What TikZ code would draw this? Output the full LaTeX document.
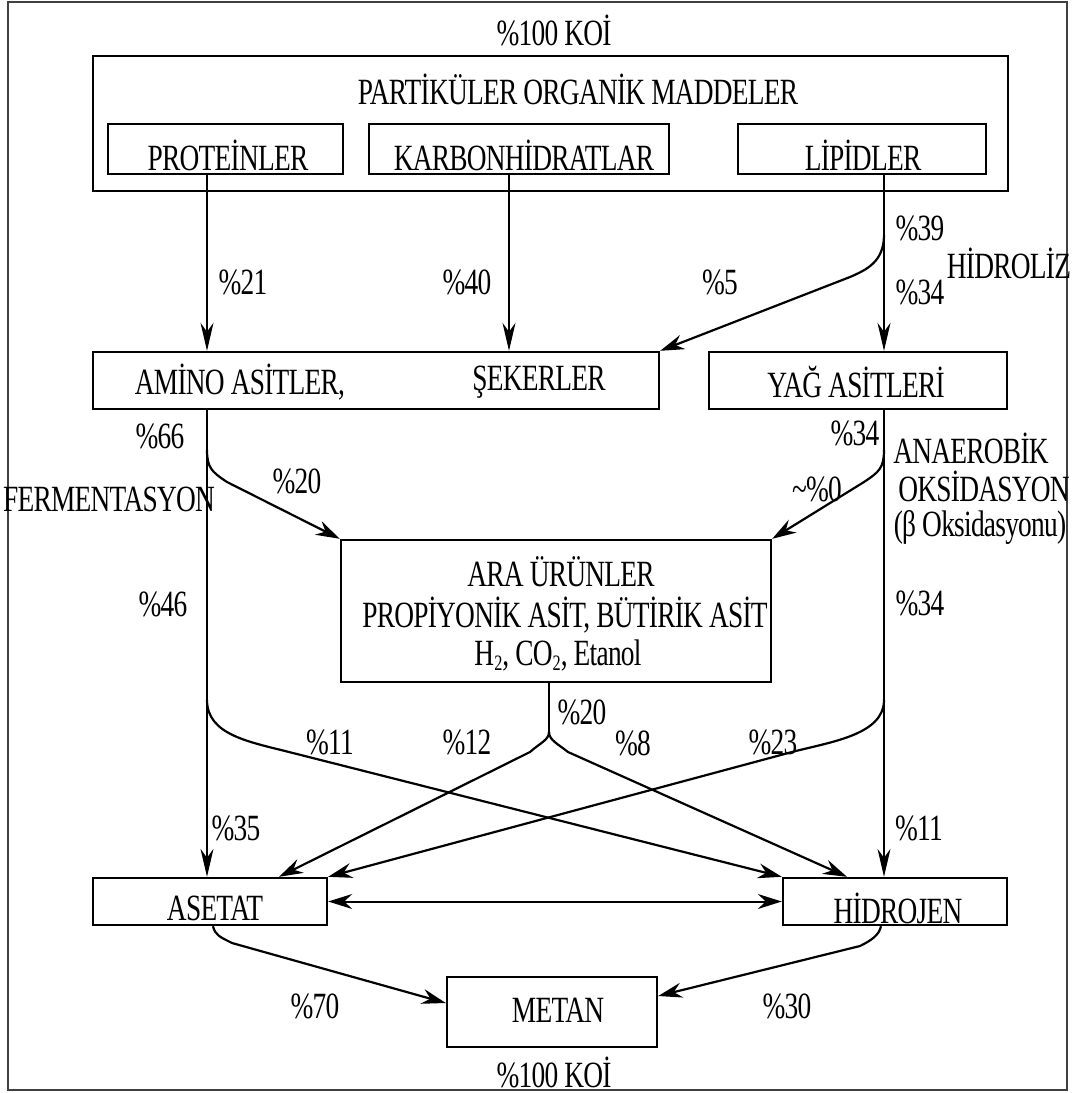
\documentclass[tikz,border=0pt]{standalone}
\usepackage{fontspec}
\setmainfont{Liberation Serif}[FakeStretch=0.74,LetterSpace=-2]
\usetikzlibrary{arrows.meta,calc}
\newcommand{\mysub}[1]{\raisebox{-5pt}{\fontsize{22}{22}\selectfont #1}}
\begin{document}
\begin{tikzpicture}[x=1pt,y=-1pt,
  box/.style={draw, line width=2.4pt, inner sep=0pt},
  txt/.style={font=\fontsize{37}{42}\selectfont, inner sep=0pt},
  thinarr/.style={line width=1.1pt, -{Stealth[length=28pt,width=13pt,inset=9pt]}},
  thickarr/.style={line width=2.2pt, -{Stealth[length=24pt,width=15pt,inset=8pt]}},
  dblarr/.style={line width=2pt, {Stealth[length=24pt,width=15pt,inset=8pt]}-{Stealth[length=24pt,width=15pt,inset=8pt]}}]
\useasboundingbox (0,0) rectangle (1074,1093);
\draw[black!75, line width=1.5pt] (8,2) rectangle (1067,1090);

% boxes
\node[box, minimum width=915pt, minimum height=135pt] (pom) at (550.5,123.5) {};
\node[box, minimum width=235pt, minimum height=50pt] (prot) at (225.5,149) {};
\node[box, minimum width=300pt, minimum height=50pt] (karb) at (519,149) {};
\node[box, minimum width=248pt, minimum height=50pt] (lip) at (862,149) {};
\node[box, minimum width=566pt, minimum height=57pt] (amino) at (376,380.5) {};
\node[box, minimum width=298pt, minimum height=57pt] (yag) at (858,380.5) {};
\node[box, minimum width=430pt, minimum height=142pt] (ara) at (556,611) {};
\node[box, minimum width=234pt, minimum height=47pt] (aset) at (210,901.5) {};
\node[box, minimum width=224pt, minimum height=47pt] (hid) at (895,901.5) {};
\node[box, minimum width=210pt, minimum height=70pt] (metan) at (552,1012) {};

% texts
\node[txt] (t100a) at (554,30) {\%100 KOİ};
\node[txt] (tpom) at (578,89) {PARTİKÜLER ORGANİK MADDELER};
\node[txt] (tprot) at (228,155) {PROTEİNLER};
\node[txt] (tkarb) at (524,155) {KARBONHİDRATLAR};
\node[txt] (tlip) at (863,155) {LİPİDLER};
\node[txt] (tamino) at (240,382) {AMİNO ASİTLER,};
\node[txt] (tseker) at (539,382) {ŞEKERLER};
\node[txt] (tyag) at (856,382) {YAĞ ASİTLERİ};
\node[txt] (tara1) at (561,572) {ARA ÜRÜNLER};
\node[txt] (tara2) at (565,615) {PROPİYONİK ASİT, BÜTİRİK ASİT};
\node[txt] (tara3) at (558,655) {H\mysub{2}, CO\mysub{2}, Etanol};
\node[txt] (taset) at (215,908) {ASETAT};
\node[txt] (thid) at (898,908) {HİDROJEN};
\node[txt] (tmetan) at (558,1010) {METAN};
\node[txt] (t100b) at (554,1072) {\%100 KOİ};

% labels
\node[txt] (l21) at (243,282) {\%21};
\node[txt] (l40) at (467,282) {\%40};
\node[txt] (l5) at (720,282) {\%5};
\node[txt] (l39) at (920,228) {\%39};
\node[txt] (lhid) at (1009,263) {HİDROLİZ};
\node[txt] (l34a) at (920,292) {\%34};
\node[txt] (l66) at (160,436) {\%66};
\node[txt] (l34b) at (855,433) {\%34};
\node[txt] (lan1) at (971,448) {ANAEROBİK};
\node[txt] (lan2) at (984,486) {OKSİDASYON};
\node[txt] (lan3) at (980,527) {(β Oksidasyonu)};
\node[txt] (lfer) at (109,499) {FERMENTASYON};
\node[txt] (l20a) at (297,481) {\%20};
\node[txt] (l0) at (817,489) {\textasciitilde\%0};
\node[txt] (l46) at (163,604) {\%46};
\node[txt] (l34c) at (920,603) {\%34};
\node[txt] (l20b) at (582,712) {\%20};
\node[txt] (l11a) at (330,742) {\%11};
\node[txt] (l12) at (467,742) {\%12};
\node[txt] (l8) at (633,743) {\%8};
\node[txt] (l23) at (773,742) {\%23};
\node[txt] (l35) at (236,828) {\%35};
\node[txt] (l11b) at (919,828) {\%11};
\node[txt] (l70) at (315,1006) {\%70};
\node[txt] (l30) at (787,1006) {\%30};

% x positions of connectors
\coordinate (xP) at (207,0);
\coordinate (xK) at (509,0);
\coordinate (xL) at (884,0);
\coordinate (xA) at (549,0);
\coordinate (xAs) at (279,0);
\coordinate (xHd) at (847,0);
\coordinate (xAm) at (213,0);
\coordinate (xHm) at (881,0);

% hydrolysis
\draw[thinarr] (xP |- prot.south) -- (xP |- amino.north);
\draw[thinarr] (xK |- karb.south) -- (xK |- amino.north);
\draw[thinarr] (xL |- lip.south) -- (xL |- yag.north);
\coordinate (b5) at (884,235);
\draw[thickarr] (b5) .. controls (884,262) and (866,270) .. (850,277) -- (amino.north east);

% fermentation / oxidation
\draw[thinarr] (xP |- amino.south) -- (xP |- aset.north);
\draw[thinarr] (xL |- yag.south) -- (xL |- hid.north);
\coordinate (b20) at (207,450);
\draw[thickarr] (b20) .. controls (207,468) and (212,472) .. (227,482) -- (ara.north west);
\coordinate (b0) at (884,450);
\draw[thickarr] (b0) .. controls (884,468) and (879,472) .. (864,482) -- (ara.north east);

% lower crossing
\coordinate (b11) at (207,700);
\draw[thickarr] (b11) .. controls (207,735) and (250,742) .. (289,752) -- (hid.north west);
\coordinate (b23) at (884,700);
\draw[thickarr] (b23) .. controls (884,735) and (830,742) .. (792,752) -- (aset.north east);
\coordinate (split) at (549,732);
\draw[line width=1.1pt] (xA |- ara.south) -- (split);
\draw[thickarr] (split) .. controls (549,740) and (540,743) .. (530,752) -- (xAs |- aset.north);
\draw[thickarr] (split) .. controls (549,740) and (558,744) .. (568,752) -- (xHd |- hid.north);

% acetate <-> hydrogen
\draw[dblarr] (aset.east) -- (hid.west);

% methane
\draw[thickarr] (xAm |- aset.south) .. controls (215,935) and (220,937) .. (232,943) -- ([yshift=9pt]metan.west);
\draw[thickarr] (xHm |- hid.south) .. controls (879,935) and (872,940) .. (860,946) -- ([yshift=16pt]metan.east);
\end{tikzpicture}
\end{document}
